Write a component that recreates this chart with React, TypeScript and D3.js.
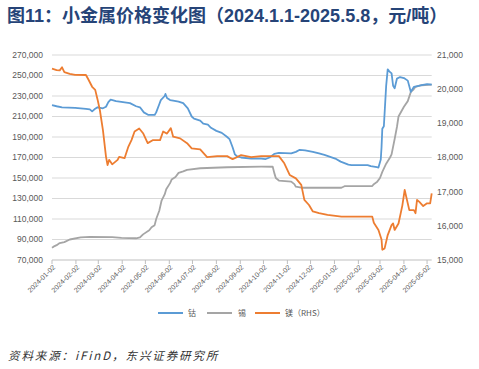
import * as d3 from "d3";

// ---- data ----
const monthTicks = [
  "2024-01-02", "2024-02-02", "2024-03-02", "2024-04-02", "2024-05-02", "2024-06-02",
  "2024-07-02", "2024-08-02", "2024-09-02", "2024-10-02", "2024-11-02", "2024-12-02",
  "2025-01-02", "2025-02-02", "2025-03-02", "2025-04-02", "2025-05-02",
];
const leftTicks = [70000, 90000, 110000, 130000, 150000, 170000, 190000, 210000, 230000, 250000, 270000];
const rightTicks = [15000, 16000, 17000, 18000, 19000, 20000, 21000];

// 钴 (left axis)
const cobalt: [string, number][] = [
  ["2024-01-02", 221000], ["2024-01-08", 220000], ["2024-01-15", 219000], ["2024-02-01", 218500],
  ["2024-02-15", 217500], ["2024-02-20", 217000], ["2024-02-23", 215000], ["2024-02-26", 217000],
  ["2024-03-01", 219000], ["2024-03-08", 218000], ["2024-03-12", 219500], ["2024-03-15", 224000],
  ["2024-03-18", 226500], ["2024-03-25", 225000], ["2024-04-03", 224000], ["2024-04-12", 223000],
  ["2024-04-20", 220000], ["2024-04-25", 219000], ["2024-04-30", 214000], ["2024-05-06", 211500],
  ["2024-05-14", 211500], ["2024-05-16", 214000], ["2024-05-20", 222000], ["2024-05-22", 226000],
  ["2024-05-27", 230000], ["2024-05-28", 232000], ["2024-05-30", 228000], ["2024-06-03", 226000],
  ["2024-06-07", 225500], ["2024-06-14", 224500], ["2024-06-20", 223000], ["2024-06-26", 218000],
  ["2024-07-01", 210000], ["2024-07-04", 208000], ["2024-07-12", 206000], ["2024-07-16", 203000],
  ["2024-07-22", 202000], ["2024-07-26", 199000], ["2024-08-02", 196000], ["2024-08-09", 194000],
  ["2024-08-16", 190000], ["2024-08-19", 188000], ["2024-08-23", 180000], ["2024-08-26", 173000],
  ["2024-08-29", 171000], ["2024-09-03", 170000], ["2024-09-16", 169000], ["2024-09-29", 169000],
  ["2024-10-05", 168500], ["2024-10-10", 170000], ["2024-10-16", 173500], ["2024-10-22", 174500],
  ["2024-11-07", 174000], ["2024-11-13", 175500], ["2024-11-18", 177500], ["2024-11-25", 177000],
  ["2024-12-05", 175500], ["2024-12-13", 174000], ["2024-12-20", 172500], ["2025-01-03", 169000],
  ["2025-01-10", 166000], ["2025-01-20", 163000], ["2025-01-24", 162500], ["2025-02-14", 162500],
  ["2025-02-18", 161500], ["2025-02-26", 160500], ["2025-02-28", 160200], ["2025-03-03", 168000],
  ["2025-03-04", 180000], ["2025-03-05", 198000], ["2025-03-07", 200500], ["2025-03-10", 240000],
  ["2025-03-12", 256000], ["2025-03-14", 254000], ["2025-03-17", 252000], ["2025-03-19", 240000],
  ["2025-03-21", 237500], ["2025-03-24", 247000], ["2025-03-28", 248500], ["2025-04-02", 247500],
  ["2025-04-07", 245000], ["2025-04-11", 234000], ["2025-04-15", 239000], ["2025-04-18", 239500],
  ["2025-04-25", 240500], ["2025-05-02", 241500], ["2025-05-08", 241000],
];

// 锡 (left axis)
const tin: [string, number][] = [
  ["2024-01-02", 82000], ["2024-01-04", 83000], ["2024-01-08", 84500], ["2024-01-12", 86500],
  ["2024-01-18", 87500], ["2024-01-25", 90000], ["2024-02-08", 92000], ["2024-02-20", 92500],
  ["2024-03-20", 92300], ["2024-04-01", 91500], ["2024-04-20", 91200], ["2024-04-25", 92000],
  ["2024-04-29", 95000], ["2024-05-07", 99000], ["2024-05-10", 102000], ["2024-05-14", 104000],
  ["2024-05-16", 110000], ["2024-05-20", 118000], ["2024-05-23", 128000], ["2024-05-27", 134000],
  ["2024-05-29", 139000], ["2024-06-03", 145000], ["2024-06-05", 148500], ["2024-06-10", 151000],
  ["2024-06-14", 155000], ["2024-06-20", 156500], ["2024-06-25", 158000], ["2024-07-12", 159500],
  ["2024-08-16", 160500], ["2024-09-29", 161000], ["2024-10-14", 161000], ["2024-10-16", 155000],
  ["2024-10-18", 150000], ["2024-10-22", 147500], ["2024-11-07", 146500], ["2024-11-11", 144000],
  ["2024-11-13", 141500], ["2024-11-20", 140500], ["2025-01-11", 140500], ["2025-01-15", 142000],
  ["2025-02-20", 142200], ["2025-02-22", 144000], ["2025-02-26", 146000], ["2025-03-02", 150000],
  ["2025-03-05", 156000], ["2025-03-10", 164000], ["2025-03-15", 170000], ["2025-03-17", 173000],
  ["2025-03-21", 188000], ["2025-03-24", 200000], ["2025-03-26", 210000], ["2025-04-02", 219500],
  ["2025-04-07", 225000], ["2025-04-11", 234000], ["2025-04-14", 236000], ["2025-04-17", 239000],
  ["2025-04-25", 240500], ["2025-05-08", 241000],
];

// 镁 (right axis)
const magnesium: [string, number][] = [
  ["2024-01-02", 20600], ["2024-01-08", 20560], ["2024-01-12", 20550], ["2024-01-15", 20640],
  ["2024-01-18", 20500], ["2024-01-25", 20450], ["2024-02-01", 20420], ["2024-02-15", 20415],
  ["2024-02-18", 20290], ["2024-02-23", 20070], ["2024-02-27", 19980], ["2024-03-01", 19700],
  ["2024-03-04", 19390], ["2024-03-08", 18800], ["2024-03-12", 18020], ["2024-03-14", 17780],
  ["2024-03-16", 17930], ["2024-03-18", 17870], ["2024-03-20", 17800], ["2024-03-27", 17930],
  ["2024-03-29", 18020], ["2024-04-05", 17980], ["2024-04-10", 18320], ["2024-04-14", 18510],
  ["2024-04-18", 18760], ["2024-04-24", 18850], ["2024-04-29", 18710], ["2024-05-05", 18420],
  ["2024-05-12", 18510], ["2024-05-21", 18510], ["2024-05-25", 18760], ["2024-05-30", 18700],
  ["2024-06-04", 18860], ["2024-06-07", 18610], ["2024-06-16", 18560], ["2024-06-25", 18420],
  ["2024-07-01", 18270], ["2024-07-12", 18240], ["2024-07-21", 18010], ["2024-08-03", 18040],
  ["2024-08-16", 18040], ["2024-08-23", 17950], ["2024-09-03", 18070], ["2024-09-16", 18010],
  ["2024-09-29", 18040], ["2024-10-22", 18040], ["2024-10-29", 17830], ["2024-11-05", 17490],
  ["2024-11-13", 17390], ["2024-11-20", 17200], ["2024-11-24", 16760], ["2024-11-30", 16610],
  ["2024-12-05", 16420], ["2024-12-13", 16370], ["2024-12-24", 16320], ["2025-01-11", 16270],
  ["2025-02-20", 16270], ["2025-02-22", 16090], ["2025-02-28", 15880], ["2025-03-04", 15600],
  ["2025-03-05", 15300], ["2025-03-08", 15340], ["2025-03-12", 15730], ["2025-03-17", 16020],
  ["2025-03-19", 16070], ["2025-03-21", 15880], ["2025-03-26", 16070], ["2025-03-31", 16600],
  ["2025-04-03", 17050], ["2025-04-09", 16460], ["2025-04-15", 16460], ["2025-04-17", 16370],
  ["2025-04-19", 16760], ["2025-04-22", 16700], ["2025-04-27", 16580], ["2025-05-02", 16660],
  ["2025-05-06", 16660], ["2025-05-08", 16950],
];

const parse = d3.timeParse("%Y-%m-%d");
const fmt = d3.format(",");
const labelFont = "'Liberation Sans', Arial, sans-serif";
const cjkFont = "'Noto Sans CJK SC', sans-serif";

export default function App() {
  const width = 479;
  const height = 369;
  const plot = { left: 52, right: 431.7, top: 55, bottom: 260 };

  const x = d3
    .scaleTime()
    .domain([parse("2024-01-02")!, parse("2025-05-08")!])
    .range([plot.left, plot.right]);
  const yL = d3.scaleLinear().domain([70000, 270000]).range([plot.bottom, plot.top]);
  const yR = d3.scaleLinear().domain([15000, 21000]).range([plot.bottom, plot.top]);

  const lineL = d3
    .line<[string, number]>()
    .x((d) => x(parse(d[0])!))
    .y((d) => yL(d[1]));
  const lineR = d3
    .line<[string, number]>()
    .x((d) => x(parse(d[0])!))
    .y((d) => yR(d[1]));

  const legend = [
    { label: "钴", color: "#5B9BD5", x0: 158, tx: 188 },
    { label: "锡", color: "#A5A5A5", x0: 207, tx: 238 },
    { label: "镁（RHS）", color: "#ED7D31", x0: 255, tx: 285 },
  ];

  return (
    <svg
      width={width}
      height={height}
      style={{ position: "absolute", left: 0, top: 0, background: "#fff" }}
    >
      <text
        x={7}
        y={22}
        fontFamily={`'Liberation Sans', ${cjkFont}`}
        fontWeight="bold"
        fontSize={18}
        fill="#264478"
      >
        图11：小金属价格变化图（2024.1.1-2025.5.8，元/吨）
      </text>

      {/* grid + left axis */}
      {leftTicks.map((t) => (
        <g key={t}>
          {t !== 70000 && (
            <line x1={plot.left} x2={plot.right} y1={yL(t)} y2={yL(t)} stroke="#d9d9d9" strokeWidth={1} />
          )}
          <text
            x={43}
            y={yL(t)}
            dy="0.35em"
            textAnchor="end"
            fontFamily={labelFont}
            fontSize={8.5}
            fill="#595959"
          >
            {fmt(t)}
          </text>
        </g>
      ))}

      {rightTicks.map((t) => (
        <text
          key={t}
          x={437}
          y={yR(t)}
          dy="0.35em"
          fontFamily={labelFont}
          fontSize={8.5}
          fill="#595959"
        >
          {fmt(t)}
        </text>
      ))}

      {/* x axis */}
      <line x1={plot.left} x2={plot.right} y1={plot.bottom} y2={plot.bottom} stroke="#bfbfbf" />
      {monthTicks.map((t) => {
        const tx = x(parse(t)!);
        return (
          <g key={t}>
            <line x1={tx} x2={tx} y1={plot.bottom} y2={plot.bottom + 4} stroke="#bfbfbf" />
            <text
              transform={`translate(${tx + 2},${plot.bottom + 6}) rotate(-45)`}
              textAnchor="end"
              dy="0.35em"
              fontFamily={labelFont}
              fontSize={7}
              fill="#595959"
            >
              {t}
            </text>
          </g>
        );
      })}

      {/* series */}
      <path d={lineL(tin) ?? ""} fill="none" stroke="#A5A5A5" strokeWidth={1.8} strokeLinejoin="round" />
      <path d={lineL(cobalt) ?? ""} fill="none" stroke="#5B9BD5" strokeWidth={1.8} strokeLinejoin="round" />
      <path d={lineR(magnesium) ?? ""} fill="none" stroke="#ED7D31" strokeWidth={1.8} strokeLinejoin="round" />

      {/* legend */}
      {legend.map((l) => (
        <g key={l.label}>
          <line x1={l.x0} x2={l.x0 + 25} y1={313} y2={313} stroke={l.color} strokeWidth={2} />
          <text x={l.tx} y={313} dy="0.35em" fontFamily={cjkFont} fontSize={8} fill="#595959">
            {l.label}
          </text>
        </g>
      ))}

      <text
        x={8}
        y={360}
        fontFamily={cjkFont}
        fontStyle="italic"
        fontSize={11.5}
        letterSpacing={1.9}
        fill="#333"
      >
        资料来源：iFinD，东兴证券研究所
      </text>
    </svg>
  );
}
